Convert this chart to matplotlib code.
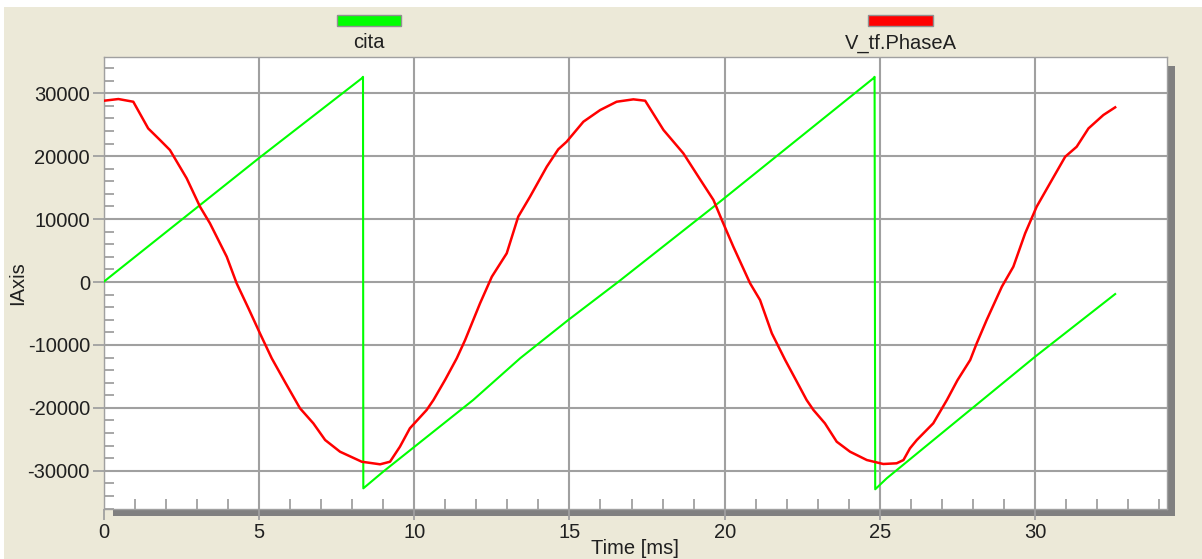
import matplotlib.pyplot as plt
from matplotlib.patches import Rectangle
from matplotlib.ticker import MultipleLocator

# cita (sawtooth angle)
t_cita = [0.0, 5.03, 8.31, 8.35, 8.36, 9.0, 11.9, 13.41, 14.96, 16.58, 19.85,
          24.79, 24.83, 24.85, 25.22, 30.0, 32.58]
cita = [50, 19810, 32360, 32600, -32780, -30130, -18740, -12120, -6040, 50, 12760,
        32360, 32600, -32930, -31190, -11870, -1910]

# V_tf.PhaseA
t_phase = [0.0, 0.47, 0.95, 1.43, 1.81, 2.13, 2.67, 3.10, 3.42, 3.96, 4.28, 4.66,
           5.03, 5.41, 5.85, 6.32, 6.75, 7.13, 7.61, 8.31, 8.90, 9.22, 9.54, 9.86,
           10.40, 10.62, 11.0, 11.37, 11.64, 12.12, 12.50, 12.98, 13.35, 13.73,
           14.27, 14.64, 14.91, 15.45, 15.99, 16.52, 17.06, 17.44, 18.03, 18.67,
           19.21, 19.64, 19.91, 20.28, 20.82, 21.14, 21.52, 21.95, 22.30, 22.64,
           22.86, 23.23, 23.61, 24.04, 24.58, 25.11, 25.54, 25.76, 25.97, 26.19,
           26.72, 27.16, 27.50, 27.91, 28.12, 28.44, 28.93, 29.30, 29.68, 30.05,
           30.48, 30.97, 31.34, 31.72, 32.20, 32.58]
phase = [28800, 29070, 28640, 24400, 22560, 20970, 16470, 11960, 9320, 4020, -210, -4180,
         -8150, -12120, -16000, -20060, -22450, -25100, -26960, -28550, -28960, -28550, -26160, -23240,
         -20330, -18740, -15500, -12120, -9210, -3390, 840, 4560, 10380, 13550,
         18320, 21080, 22290, 25470, 27320, 28640, 29020, 28800, 24150, 20440,
         16300, 13030, 9850, 5610, -210, -2860, -8150, -12390, -15600, -18740,
         -20330, -22450, -25370, -26960, -28280, -28910, -28800, -28280, -26420, -25100,
         -22450, -18740, -15600, -12390, -9740, -6040, -740, 2430, 7730, 11960,
         15680, 19900, 21490, 24400, 26530, 27750]

W, H = 1202, 559
BG = '#ECE9D8'
GRID = '#A0A0A0'
SHADOW = '#808080'
plt.rcParams['font.family'] = ['Liberation Sans', 'DejaVu Sans']
plt.rcParams['axes.unicode_minus'] = False

fig = plt.figure(figsize=(W / 100, H / 100), dpi=100, facecolor=BG)

def px_rect(x0, y0, x1, y1, color, z=-1):
    # rectangle given in pixel coords (origin top-left)
    r = Rectangle((x0 / W, 1 - y1 / H), (x1 - x0) / W, (y1 - y0) / H,
                  transform=fig.transFigure, facecolor=color,
                  edgecolor='none', zorder=z)
    fig.patches.append(r)
    return r

# white window edges
px_rect(0, 0, W, 7, 'white')
px_rect(0, 0, 4, H, 'white')
# drop shadow of the plot area
px_rect(113, 509, 1175, 516, SHADOW)
px_rect(1167, 66, 1175, 516, SHADOW)

ax = fig.add_axes([103.8 / W, 1 - 509 / H, (1167 - 103.8) / W, (509 - 57.3) / H])
ax.set_facecolor('white')
ax.plot(t_cita, cita, color='#00FF00', lw=1.5, zorder=3)
ax.plot(t_phase, phase, color='#FF0000', lw=1.8, zorder=4)

ax.set_xlim(0, 34.25)
ax.set_ylim(-36060, 35700)
ax.xaxis.set_major_locator(MultipleLocator(5))
ax.xaxis.set_minor_locator(MultipleLocator(1))
ax.yaxis.set_major_locator(MultipleLocator(10000))
ax.yaxis.set_minor_locator(MultipleLocator(2000))
ax.grid(which='major', color=GRID, lw=1.5, zorder=1)
ax.set_axisbelow(True)
ax.tick_params(which='major', direction='out', length=8, width=1.3, color=GRID,
               labelsize=14.5, labelcolor='#202020', pad=2)
ax.tick_params(which='minor', direction='in', length=7, width=1.3, color=GRID)
for s in ax.spines.values():
    s.set_color(GRID)
    s.set_linewidth(1.0)

ax.set_xlabel('Time [ms]', fontsize=14.5, color='#202020', labelpad=-2)
ax.set_ylabel('IAxis', fontsize=14.5, color='#202020', labelpad=0)

# legend: coloured bars with names underneath
legend = [('cita', '#00FF00', 337, 401), ('V_tf.PhaseA', '#FF0000', 868, 933)]
for name, col, x0, x1 in legend:
    bar = px_rect(x0, 15, x1, 26, col, z=2)
    bar.set_edgecolor('#909090')
    bar.set_linewidth(1)
    fig.text((x0 + x1) / 2 / W, 1 - 43 / H, name, ha='center', va='center',
             fontsize=14.5, color='#202020')

fig.savefig('out.png', dpi=100, facecolor=BG)
